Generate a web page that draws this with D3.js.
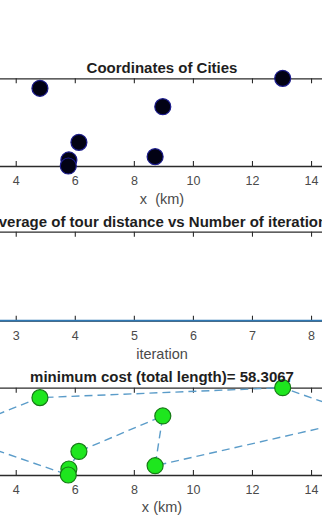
<!DOCTYPE html>
<html>
<head>
<meta charset="utf-8">
<script src="https://cdn.jsdelivr.net/npm/d3@7"></script>
<style>
  html, body { margin: 0; padding: 0; background: #fff; }
  svg { display: block; }
  text { font-family: "Liberation Sans", Arial, Helvetica, sans-serif; }
</style>
</head>
<body>
<svg id="fig" width="322" height="530"></svg>
<script>
// City coordinates (km)
const cityX = [1.72, 4.82, 13.04, 15.90, 8.72, 8.98, 6.14, 5.80, 5.78];
const cityY = [4.78, 8.09, 9.00, 6.26, 1.85, 6.41, 3.16, 1.55, 1.00];
// Best tour found (indices into the city arrays, closed loop)
const bestTour = [0, 1, 2, 3, 4, 5, 6, 7, 8, 0];
const minCost = 58.3067;

// Average tour distance per iteration
const iterations = [1, 2, 3, 4, 5, 6, 7, 8, 9];
const avgDistance = [63.9, 58.3067, 58.3067, 58.3067, 58.3067, 58.3067, 58.3067, 58.3067, 58.3067];

// Axis limits and the labelled ticks
const kmLimits = [0, 16];
const kmTicks = [4, 6, 8, 10, 12, 14];
const iterLimits = [1, 9];
const iterTicks = [3, 4, 5, 6, 7, 8];
const yLimits = [1, 9];

const svg = d3.select("#fig");
const axLeft = -102.4, axRight = 370.1;
const axisColor = "#2b2b2b";
const labelColor = "#4a4a4a";

function drawFrame(g, x, ticks, top, bottom, tickFmt) {
  const bottomAxis = d3.axisBottom(x).tickValues(ticks).tickSizeInner(-5)
    .tickSizeOuter(0).tickPadding(10).tickFormat(tickFmt);
  const topAxis = d3.axisTop(x).tickValues(ticks).tickSizeInner(-5)
    .tickSizeOuter(0).tickFormat("");
  const gb = g.append("g").attr("transform", `translate(0,${bottom})`).call(bottomAxis);
  const gt = g.append("g").attr("transform", `translate(0,${top})`).call(topAxis);
  [gb, gt].forEach(a => {
    a.select(".domain").attr("stroke", axisColor).attr("stroke-width", 1.3);
    a.selectAll(".tick line").attr("stroke", axisColor).attr("stroke-width", 1.1);
    a.selectAll(".tick text").attr("fill", labelColor).attr("font-size", 12.5);
  });
}

function title(text, y) {
  svg.append("text").attr("x", 162).attr("y", y).attr("text-anchor", "middle")
    .attr("font-size", 15).attr("font-weight", "bold").attr("fill", "#1e1e1e")
    .text(text);
}

function xLabel(text, y) {
  svg.append("text").attr("x", 162).attr("y", y).attr("text-anchor", "middle")
    .attr("font-size", 14.5).attr("fill", labelColor)
    .style("white-space", "pre").text(text);
}

const xKm = d3.scaleLinear().domain(kmLimits).range([axLeft, axRight]);
const xIter = d3.scaleLinear().domain(iterLimits).range([axLeft, axRight]);

// ---- Panel 1: city locations ----
const p1 = { top: 78.3, bottom: 166 };
const y1 = d3.scaleLinear().domain(yLimits).range([p1.bottom, p1.top]);
const g1 = svg.append("g");
drawFrame(g1, xKm, kmTicks, p1.top, p1.bottom, d3.format("d"));
g1.selectAll("circle.city").data(cityX).join("circle")
  .attr("class", "city")
  .attr("cx", (d) => xKm(d))
  .attr("cy", (d, i) => y1(cityY[i]))
  .attr("r", 8)
  .attr("fill", "#020214")
  .attr("stroke", "#1c1c8c")
  .attr("stroke-width", 1.2);
title("Coordinates of Cities", 72.7);
xLabel("x  (km)", 204);

// ---- Panel 2: average tour distance ----
const p2 = { top: 231.7, bottom: 320.7 };
const y2 = d3.scaleLinear().domain(d3.extent(avgDistance)).range([p2.bottom, p2.top]);
const g2 = svg.append("g");
drawFrame(g2, xIter, iterTicks, p2.top, p2.bottom, d3.format("d"));
g2.append("path")
  .datum(iterations)
  .attr("fill", "none")
  .attr("stroke", "#2f78b4")
  .attr("stroke-width", 1.8)
  .attr("d", d3.line().x(d => xIter(d)).y((d, i) => y2(avgDistance[i])));
title("Average of tour distance vs Number of iterations", 227);
xLabel("iteration", 359);

// ---- Panel 3: best tour ----
const p3 = { top: 387.7, bottom: 475 };
const y3 = d3.scaleLinear().domain(yLimits).range([p3.bottom, p3.top]);
const g3 = svg.append("g");
drawFrame(g3, xKm, kmTicks, p3.top, p3.bottom, d3.format("d"));
g3.append("path")
  .datum(bestTour)
  .attr("fill", "none")
  .attr("stroke", "#5b9cc9")
  .attr("stroke-width", 1.4)
  .attr("stroke-dasharray", "8,5")
  .attr("d", d3.line().x(k => xKm(cityX[k])).y(k => y3(cityY[k])));
g3.selectAll("circle.stop").data(cityX).join("circle")
  .attr("class", "stop")
  .attr("cx", (d) => xKm(d))
  .attr("cy", (d, i) => y3(cityY[i]))
  .attr("r", 8)
  .attr("fill", "#1ee61e")
  .attr("stroke", "#167a16")
  .attr("stroke-width", 1.2);
title(`minimum cost (total length)= ${minCost}`, 382);
xLabel("x (km)", 512);
</script>
</body>
</html>
